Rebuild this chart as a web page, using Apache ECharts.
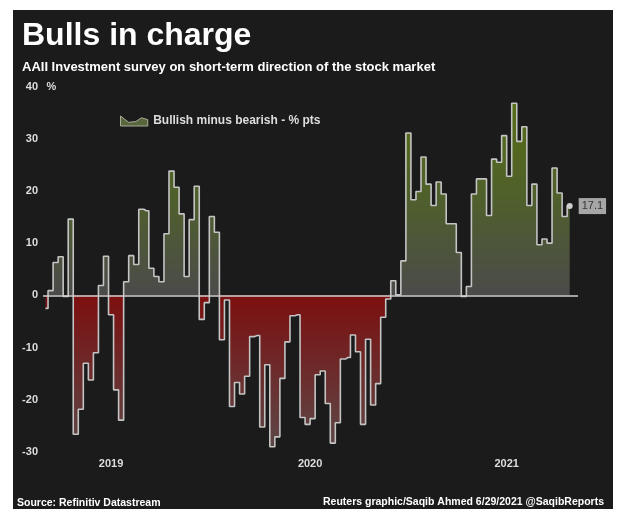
<!DOCTYPE html>
<html>
<head>
<meta charset="utf-8">
<script src="https://cdn.jsdelivr.net/npm/echarts@6/dist/echarts.min.js"></script>
<style>
html,body{margin:0;padding:0;background:#fff;}
#c{width:618px;height:509px;}
</style>
</head>
<body>
<div id="c"></div>
<script>
// ---- Data ----
const titleText = 'Bulls in charge';
const subtitleText = 'AAII Investment survey on short-term direction of the stock market';
const seriesName = 'Bullish minus bearish - % pts';
const sourceText = 'Source: Refinitiv Datastream';
const creditText = 'Reuters graphic/Saqib Ahmed 6/29/2021 @SaqibReports';
const firstWeek = '2019-06-28';
const spreadValues = [
  -2.5, 0.9, 6.3, 7.4, -0.2, 14.6, -26.6, -21.8, -13.0, -16.2,
  -11.0, 1.9, 7.5, -3.7, -18.1, -23.9, 2.6, 7.6, 5.9, 16.5,
  16.2, 5.2, 3.6, 2.6, 11.8, 23.8, 20.7, 15.6, 3.6, 14.5,
  20.9, -4.6, -1.4, 15.1, 12.1, -8.5, -0.9, -21.3, -16.7, -18.9,
  -15.5, -7.9, -7.7, -25.2, -13.3, -29.0, -27.1, -15.9, -8.9, -3.9,
  -3.7, -23.4, -24.7, -23.6, -15.2, -14.5, -20.7, -28.3, -24.4, -12.2,
  -11.9, -7.6, -10.8, -24.7, -8.4, -21.0, -16.9, -4.2, -0.7, 2.8,
  0.1, 6.6, 31.1, 18.3, 19.9, 26.5, 21.3, 17.2, 21.7, 19.4,
  13.7, 13.7, 8.2, -0.2, 1.7, 19.4, 22.3, 22.3, 15.3, 26.1,
  25.5, 30.6, 22.8, 36.8, 29.5, 32.3, 17.2, 21.3, 9.7, 10.8,
  10.0, 24.4, 19.6, 15.1, 17.1
];
const yTicks = [-30, -20, -10, 0, 10, 20, 30, 40];

// weekly dates (axis categories)
const weekDates = spreadValues.map((_, i) => {
  const d = new Date(Date.parse(firstWeek + 'T00:00:00Z') + i * 7 * 86400000);
  return d.toISOString().slice(0, 10);
});

// year label positions: centre of each year's run of weeks
const yearGroups = {};
weekDates.forEach((d, i) => {
  const y = d.slice(0, 4);
  if (!yearGroups[y]) yearGroups[y] = [i, i];
  yearGroups[y][1] = i;
});
const yearCenters = Object.keys(yearGroups).map(y => ({
  year: y, pos: (yearGroups[y][0] + yearGroups[y][1]) / 2
}));

const FONT = "'Liberation Sans', Arial, Helvetica, sans-serif";
const chart = echarts.init(document.getElementById('c'), null, {renderer: 'canvas'});

const vMax = Math.max(...spreadValues), vMin = Math.min(...spreadValues);
const zf = vMax / (vMax - vMin);

const lastIdx = spreadValues.length - 1;
const seriesData = spreadValues.map((v, i) => i === lastIdx
  ? {value: [i, v], symbol: 'circle', symbolSize: 6, itemStyle: {color: '#cfcfcf'}}
  : [i, v]);

const option = {
  animation: false,
  backgroundColor: '#ffffff',
  textStyle: {fontFamily: FONT},
  graphic: [
    {type: 'rect', z: -10, shape: {x: 13, y: 10, width: 600, height: 500}, style: {fill: '#1b1b1b'}},
    {type: 'text', z: 10, x: 22, y: 36, style: {text: titleText, fill: '#ffffff', font: 'bold 32px ' + FONT, textVerticalAlign: 'middle'}},
    {type: 'text', z: 10, x: 22, y: 67, style: {text: subtitleText, fill: '#ffffff', font: 'bold 13px ' + FONT, textVerticalAlign: 'middle'}},
    {type: 'text', z: 10, x: 17, y: 503, style: {text: sourceText, fill: '#ffffff', font: 'bold 10.5px ' + FONT, textVerticalAlign: 'middle'}},
    {type: 'text', z: 10, x: 604, y: 502, style: {text: creditText, fill: '#ffffff', font: 'bold 10.5px ' + FONT, textAlign: 'right', textVerticalAlign: 'middle'}}
  ],
  legend: {
    left: 115, top: 110,
    itemWidth: 28, itemHeight: 10, itemGap: 10,
    textStyle: {color: '#dddddd', fontWeight: 'bold', fontSize: 12, fontFamily: FONT},
    data: [{
      name: seriesName,
      icon: 'path://M0,1 L9,8 L17,7 L23,3 L30,5 L30,12 L0,12 Z',
      itemStyle: {color: '#59653d', borderColor: '#a9ad98', borderWidth: 1}
    }]
  },
  grid: {left: 43, right: 40, top: 86.5, bottom: 57, containLabel: false},
  xAxis: {
    type: 'value', min: -0.5, max: 105.65,
    axisLine: {show: false}, axisTick: {show: false}, splitLine: {show: false},
    axisLabel: {
      show: true, margin: 6, color: '#dddddd', fontWeight: 'bold', fontSize: 11, fontFamily: FONT,
      customValues: yearCenters.map(c => c.pos),
      formatter: v => {
        const c = yearCenters.find(c => Math.abs(c.pos - v) < 1e-6);
        return c ? c.year : '';
      }
    }
  },
  yAxis: {
    type: 'value', min: -30, max: 40, interval: 10,
    name: '%', nameLocation: 'end', nameGap: 0,
    nameTextStyle: {color: '#dddddd', fontWeight: 'bold', fontSize: 11, align: 'left', verticalAlign: 'middle', padding: [0, 0, 0, 1], fontFamily: FONT},
    axisLine: {show: false}, axisTick: {show: false}, splitLine: {show: false},
    axisLabel: {margin: 5, color: '#dddddd', fontWeight: 'bold', fontSize: 11, fontFamily: FONT}
  },
  series: [{
    name: seriesName,
    type: 'line',
    step: 'middle',
    data: seriesData,
    symbol: 'none',
    showSymbol: true,
    lineStyle: {color: '#c4c4c4', width: 1.6},
    itemStyle: {color: '#59653d'},
    areaStyle: {
      origin: 0,
      opacity: 1,
      color: new echarts.graphic.LinearGradient(0, 0, 0, 1, [
        {offset: 0, color: '#566e14'},
        {offset: zf * 0.5, color: '#4f5f2c'},
        {offset: zf - 0.002, color: '#4b4b4a'},
        {offset: zf, color: '#7c0f0f'},
        {offset: 1, color: '#5d4747'}
      ])
    },
    endLabel: {
      show: true, distance: 9,
      formatter: p => p.value[1].toFixed(1),
      backgroundColor: '#a6a6a6', color: '#333333', fontSize: 11, fontFamily: FONT,
      padding: [3, 3, 2, 3]
    },
    markLine: {
      silent: true, symbol: ['none', 'none'],
      label: {show: false},
      lineStyle: {color: '#d2d2d2', width: 1.5, type: 'solid'},
      data: [{yAxis: 0}]
    }
  }]
};
chart.setOption(option);
</script>
</body>
</html>
